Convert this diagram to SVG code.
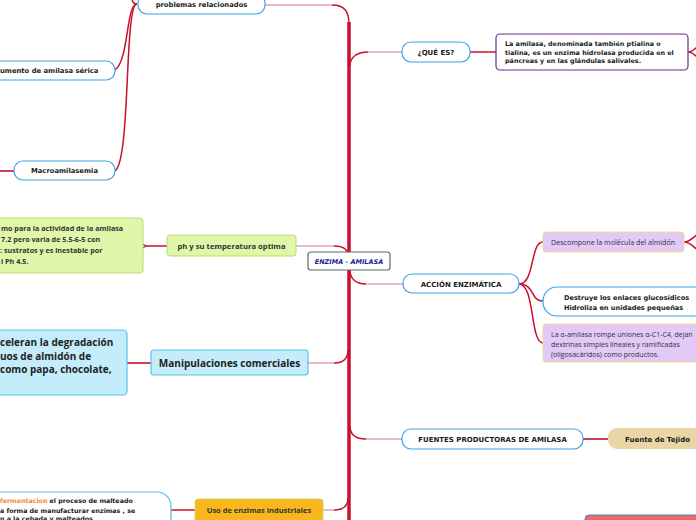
<svg xmlns="http://www.w3.org/2000/svg" width="696" height="520" viewBox="0 0 696 520">
<style>
.v{font-family:"DejaVu Sans",Verdana,sans-serif;font-weight:bold;fill:#1a1a1a}
.o{font-family:"Open Sans","Noto Sans",sans-serif;fill:#333}
.wn{fill:#fff;stroke:#3ea2e6;stroke-width:1.2}
.red{fill:none;stroke:#c8102e;stroke-width:1.5}
.pink{fill:none;stroke:#e9a0b0;stroke-width:1.5}
.trunk{fill:none;stroke:#c8102e;stroke-width:3.5}
</style>
<defs>
<marker id="ah" viewBox="0 0 10 10" refX="2" refY="5" markerWidth="8" markerHeight="8" orient="auto-start-reverse" markerUnits="userSpaceOnUse">
<path d="M9,1 L2,5 L9,9" fill="none" stroke="#c8102e" stroke-width="1.6"/>
</marker>
</defs>
<rect width="696" height="520" fill="#fff"/>
<g id="connectors">
<path class="trunk" d="M349,22 V520"/>
<path class="pink" d="M265,5 H332"/>
<path class="red" d="M332,5 C345,5 349,12 349,24"/>
<path class="pink" d="M296,246 H334"/>
<path class="red" d="M334,246 C344,246 348,250 348,256"/>
<path class="pink" d="M308,363 H334"/>
<path class="red" d="M334,363 C344,363 348,358 348,350"/>
<path class="pink" d="M323,510 H334"/>
<path class="red" d="M334,510 C344,510 348,505 348,498"/>
<path class="pink" d="M402,52 H368"/>
<path class="red" d="M368,52 C356,52 350,58 350,66"/>
<path class="pink" d="M403,284 H366"/>
<path class="red" d="M366,284 C355,284 350,278 350,270"/>
<path class="pink" d="M402,439 H366"/>
<path class="red" d="M366,439 C355,439 350,434 350,426"/>
<path class="red" d="M137,4 C126,4 129,60 115,70"/>
<path class="red" d="M137,4 C124,4 131,160 115,171"/>
<path class="red" d="M137,4 C130,4 133,-4 131,-10"/>
<path class="red" d="M0,171 H14" style="stroke:#d0405a;stroke-width:2"/>
<path class="red" d="M167,246 H146" marker-end="url(#ah)"/>
<path class="red" d="M151,363 H127" style="stroke:#d0405a;stroke-width:2"/>
<path class="red" d="M195,510 H171"/>
<path class="red" d="M470,52 H496"/>
<path class="red" d="M688,52 C693,52 695,49 698,46 M688,52 C693,52 695,55 698,58"/>
<path class="red" d="M519,284 C535,284 530,242 543,242"/>
<path class="red" d="M519,284 C535,284 530,301 543,301"/>
<path class="red" d="M519,284 C535,284 530,343 543,343"/>
<path class="red" d="M684,242 C690,242 692,238 698,234 M684,242 C690,242 692,246 698,250"/>
<path class="red" d="M583,439 H608" style="stroke:#d0405a;stroke-width:2"/>
</g>
<g id="problemas">
<rect class="wn" x="138" y="-6" width="127" height="20" rx="9"/>
<text class="v" x="201.5" y="7" font-size="6.8" text-anchor="middle">problemas relacionados</text>
</g>
<g id="aumento">
<rect class="wn" x="-23" y="61" width="138" height="19" rx="9"/>
<text class="v" x="0" y="73" font-size="6.8">umento de amilasa sérica</text>
</g>
<g id="macro">
<rect class="wn" x="14" y="161" width="101" height="19" rx="9"/>
<text class="v" x="64.5" y="173" font-size="6.8" text-anchor="middle">Macroamilasemia</text>
</g>
<g id="center">
<rect x="308" y="252" width="82" height="18" rx="3" fill="#fff" stroke="#666" stroke-width="1.2"/>
<text x="349" y="264" font-size="6.5" text-anchor="middle" font-family="DejaVu Sans,Verdana,sans-serif" font-weight="bold" font-style="italic" fill="#1a1a9a">ENZIMA - AMILASA</text>
</g>
<g id="ph">
<rect x="167" y="235" width="129" height="21" rx="3" fill="#e0f6a8" stroke="#b8dc70" stroke-width="1"/>
<text class="o" x="231.5" y="248.5" font-size="7.7" font-weight="bold" text-anchor="middle">ph y su temperatura optima</text>
</g>
<g id="ph-text">
<rect x="-6" y="218" width="149" height="55" rx="3" fill="#e0f6a8" stroke="#b8dc70" stroke-width="1"/>
<text class="o" font-size="7.2" font-weight="bold"><tspan x="1" y="231">mo para la actividad de la amilasa</tspan><tspan x="1" y="242">7.2 pero varia de 5.5-6-5 con</tspan><tspan x="0" y="253">: sustratos y es inestable por</tspan><tspan x="1" y="264">l Ph 4.5.</tspan></text>
</g>
<g id="manip">
<rect x="151" y="350" width="157" height="25" rx="3" fill="#c5ecfb" stroke="#5cc2ec" stroke-width="1.2"/>
<text class="o" x="229.5" y="366.5" font-size="10" font-weight="bold" text-anchor="middle" style="fill:#222">Manipulaciones comerciales</text>
</g>
<g id="manip-text">
<rect x="-6" y="330" width="133" height="65" rx="4" fill="#c5ecfb" stroke="#5cc2ec" stroke-width="1.2"/>
<text class="o" font-size="10" font-weight="bold" style="fill:#222"><tspan x="0" y="346">celeran la degradación</tspan><tspan x="0" y="360">uos de almidón de</tspan><tspan x="0" y="373">como papa, chocolate,</tspan></text>
</g>
<g id="uso">
<rect x="195" y="499" width="128" height="25" rx="3" fill="#f8b81c" stroke="#c8dc70" stroke-width="1"/>
<text class="o" x="259" y="513" font-size="7.5" font-weight="bold" text-anchor="middle" style="fill:#333">Uso de enzimas industriales</text>
</g>
<g id="uso-text">
<rect x="-20" y="492" width="191" height="40" rx="14" fill="#fff" stroke="#5cb5ea" stroke-width="1.2"/>
<text class="v" font-size="6.3"><tspan x="0" y="503" style="fill:#f08c2a">fermentacion</tspan><tspan> el proceso de malteado</tspan><tspan x="0" y="513">a forma de manufacturar enzimas , se</tspan><tspan x="0" y="521">n a la cebada y malteados</tspan></text>
</g>
<g id="que-es">
<rect class="wn" x="402" y="42" width="68" height="20" rx="9"/>
<text class="v" x="436" y="54.5" font-size="7" text-anchor="middle">¿QUÉ ES?</text>
</g>
<g id="definicion">
<rect x="496" y="34" width="192" height="36" rx="4" fill="#fff" stroke="#6a2c91" stroke-width="1.2"/>
<text class="v" font-size="6.4"><tspan x="505" y="46">La amilasa, denominada también ptialina o</tspan><tspan x="505" y="55">tialina, es un enzima hidrolasa producida en el</tspan><tspan x="505" y="63">páncreas y en las glándulas salivales.</tspan></text>
</g>
<g id="accion">
<rect class="wn" x="403" y="274" width="116" height="19" rx="9"/>
<text class="v" x="461" y="286.5" font-size="7" text-anchor="middle">ACCIÓN ENZIMÁTICA</text>
</g>
<g id="descompone">
<rect x="543" y="232" width="141" height="20" rx="3" fill="#e2c9f7" stroke="#f5d98a" stroke-width="1"/>
<text class="o" x="551" y="244.5" font-size="7.1">Descompone la molécula del almidón</text>
</g>
<g id="destruye">
<rect class="wn" x="543" y="287" width="170" height="29" rx="14"/>
<text class="v" font-size="6.6"><tspan x="564" y="300">Destruye los enlaces glucosídicos</tspan><tspan x="564" y="310">Hidroliza en unidades pequeñas</tspan></text>
</g>
<g id="alfa">
<rect x="543" y="324" width="165" height="38" rx="3" fill="#e2c9f7" stroke="#f5d98a" stroke-width="1"/>
<text class="o" font-size="7"><tspan x="551" y="337">La α-amilasa rompe uniones α-C1-C4, dejan</tspan><tspan x="551" y="347">dextrinas simples lineales y ramificadas</tspan><tspan x="551" y="357">(oligosacáridos) como productos.</tspan></text>
</g>
<g id="fuentes">
<rect class="wn" x="402" y="429" width="181" height="20" rx="9"/>
<text class="v" x="492.5" y="441.5" font-size="7" text-anchor="middle">FUENTES PRODUCTORAS DE AMILASA</text>
</g>
<g id="tejido">
<rect x="608" y="428" width="100" height="21" rx="9" fill="#e9d5a6"/>
<text class="v" x="625" y="441.5" font-size="7">Fuente de Tejido</text>
</g>
<g id="bottom-right">
<rect x="585" y="515" width="120" height="20" rx="4" fill="#e86a6a" stroke="#3a8fd0" stroke-width="1"/>
</g>
</svg>
